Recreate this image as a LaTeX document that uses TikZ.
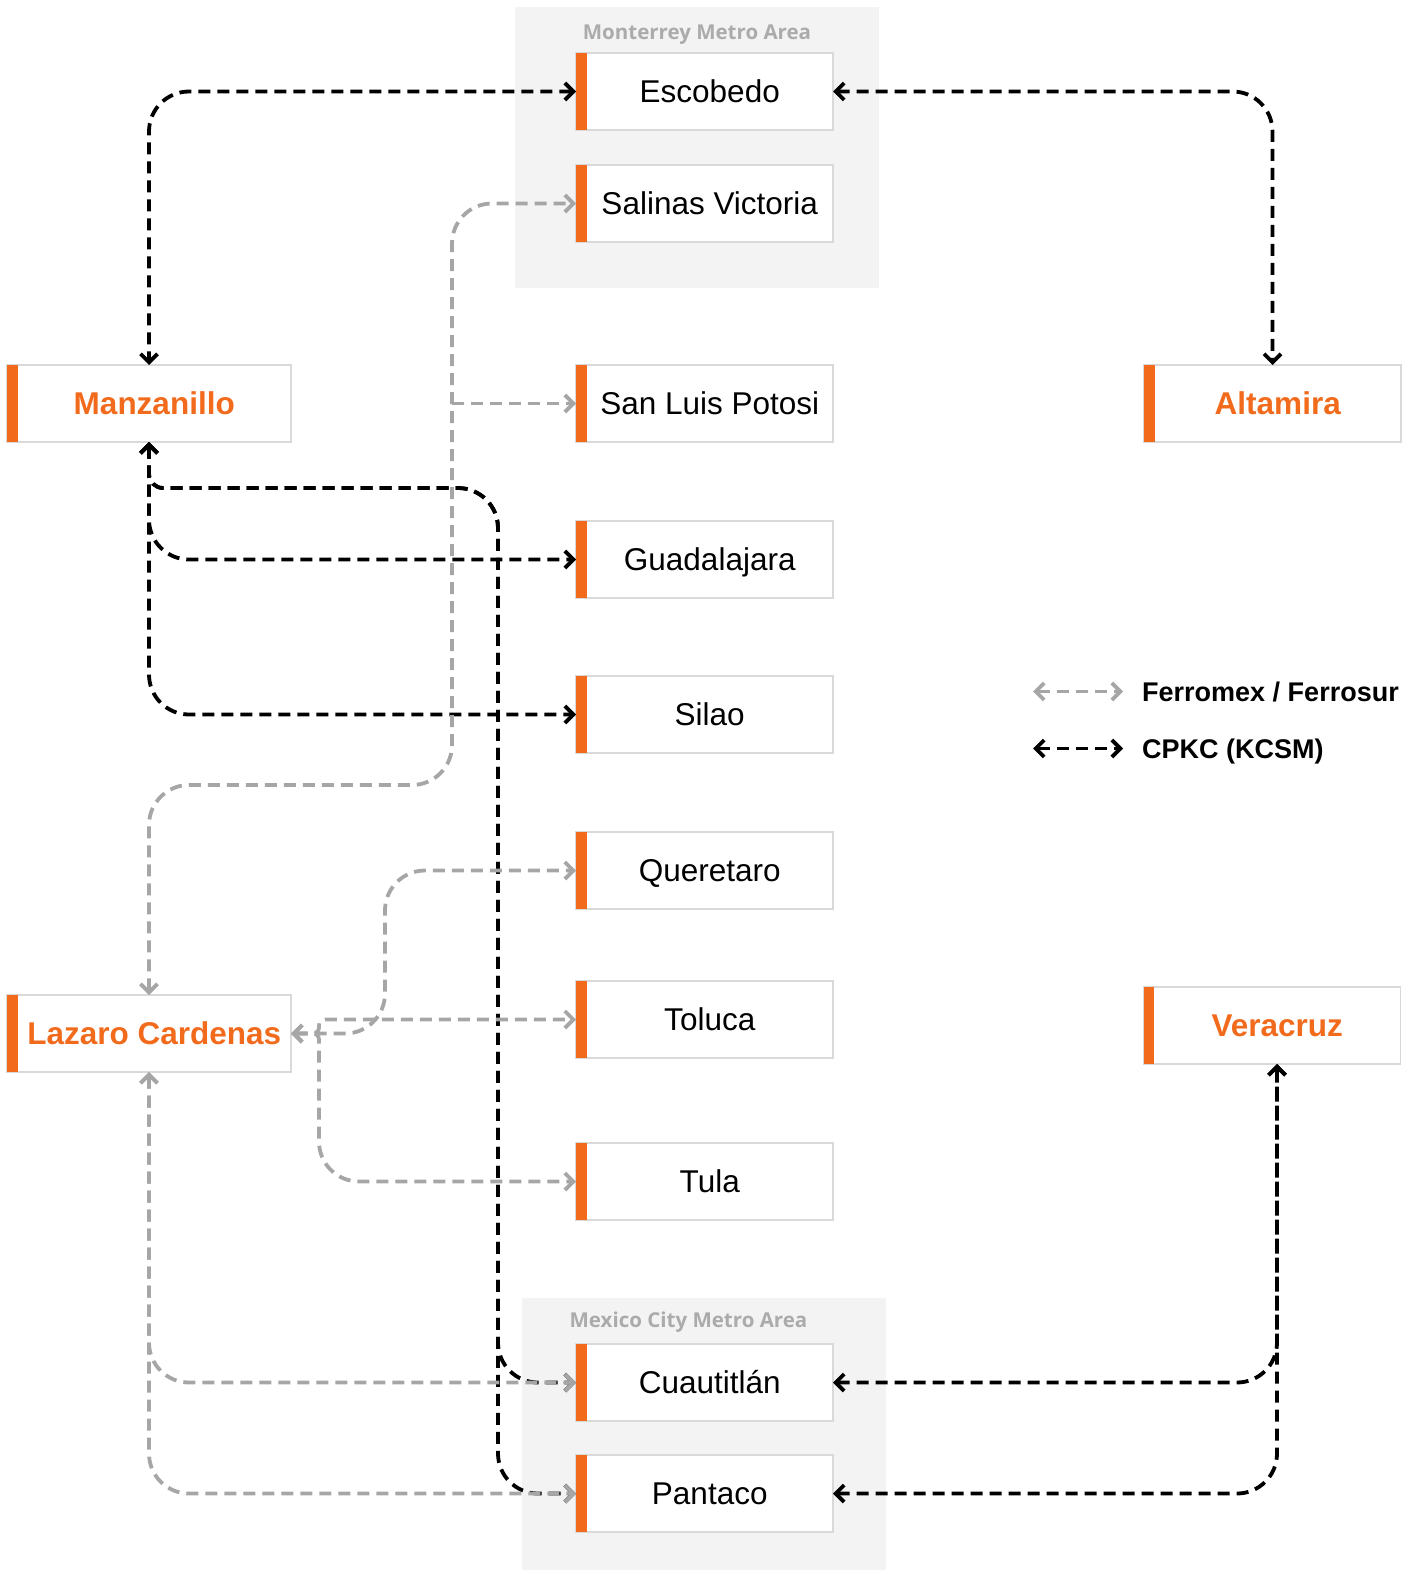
\documentclass[tikz,border=0pt]{standalone}
\usepackage{fontspec}
\setmainfont{Liberation Sans}
\newfontfamily\areafont{Open Sans}
\usepackage{tikz}
\usetikzlibrary{positioning}
\usetikzlibrary{calc}
\usetikzlibrary{arrows.meta}

\definecolor{accent}{HTML}{F26B1D}
\definecolor{areagray}{HTML}{F3F3F3}
\definecolor{boxline}{HTML}{D9D9D9}
\definecolor{ferrogray}{HTML}{A6A6A6}
\definecolor{labelgray}{HTML}{ABABAB}

\begin{document}
\begin{tikzpicture}[x=1pt, y=-1pt,
    station/.style={draw=boxline, line width=1.5pt, fill=white, inner sep=0pt, outer sep=0pt,
        minimum width=257pt, minimum height=77pt, text height=22.5pt, text depth=0pt,
        font=\fontsize{31.5}{36}\selectfont, execute at begin node={\hspace*{10.5pt}}},
    port/.style={station, text=accent, font=\fontsize{31.5}{36}\selectfont\bfseries},
    link/.style={line width=3.8pt, dash pattern=on 12pt off 7pt, rounded corners=40pt,
        >={Straight Barb[length=8.5pt,width=17pt]}, <->},
    cpkc/.style={link, draw=black},
    ferro/.style={link, draw=ferrogray},
    area/.style={text=labelgray, inner sep=0pt, text height=15pt, text depth=0pt,
        font=\areafont\fontsize{20.5}{24}\selectfont\bfseries},
    legend/.style={anchor=west, inner sep=0pt, text height=19.5pt, text depth=0pt,
        font=\fontsize{27}{32}\selectfont\bfseries}]

    \useasboundingbox (0,0) rectangle (1418,1570);

    \fill[areagray] (515,7) rectangle (879,288);
    \fill[areagray] (522,1298) rectangle (886,1570);
    \node[area] (mtylab) at (697,32) {Monterrey Metro Area};
    \node[area] (cdmxlab) at (688.5,1320) {Mexico City Metro Area};

    \node[station] (esc) at (704.5,91.5) {Escobedo};
    \node[station, below=35pt of esc] (sal) {Salinas Victoria};
    \node[station, below=123pt of sal] (slp) {San Luis Potosi};
    \node[station, below=79pt of slp] (gua) {Guadalajara};
    \node[station, below=78pt of gua] (sil) {Silao};
    \node[station, below=79pt of sil] (que) {Queretaro};
    \node[station, below=72pt of que] (tol) {Toluca};
    \node[station, below=85pt of tol] (tul) {Tula};
    \node[station, below=124pt of tul] (cua) {Cuautitlán};
    \node[station, below=34pt of cua] (pan) {Pantaco};

    \node[port, minimum width=284pt, left=285pt of slp] (man) {Manzanillo};
    \node[port, right=311pt of slp] (alt) {Altamira};
    \node[port, minimum width=284pt] (lc) at (149,1033.5) {Lazaro Cardenas};
    \node[port] (ver) at (1272,1025.5) {Veracruz};

    \foreach \n in {esc,sal,slp,gua,sil,que,tol,tul,cua,pan,man,alt,lc,ver}
        \fill[accent] (\n.north west) rectangle ([xshift=10.5pt]\n.south west);

    \draw[cpkc] (esc.west) -| (man.north);
    \draw[cpkc] (esc.east) -| (alt.north);
    \draw[cpkc] (man.south) |- (gua.west);
    \draw[cpkc] (man.south) |- (sil.west);
    \draw[cpkc] (man.south) [rounded corners=14pt] -- (149,488) [rounded corners=40pt] -- (498,488) |- (cua.west);
    \draw[cpkc] (man.south) [rounded corners=14pt] -- (149,488) [rounded corners=40pt] -- (498,488) |- (pan.west);
    \draw[cpkc] (cua.east) -| ([xshift=5pt]ver.south);
    \draw[cpkc] (pan.east) -| ([xshift=5pt]ver.south);

    \coordinate (slpfork) at (452,403.5);
    \draw[ferro] (lc.north) |- (452,785) |- (sal.west);
    \draw[ferro, ->] (slpfork) -- (slp.west);
    \draw[ferro] (lc.east) -| (385,870.5) -- (que.west);
    \draw[ferro, rounded corners=6pt] (lc.east) -- (319,1033.5) |- (tol.west);
    \draw[ferro, rounded corners=6pt] (lc.east) -- (319,1033.5) [rounded corners=40pt] |- (tul.west);
    \draw[ferro] (lc.south) |- (cua.west);
    \draw[ferro] (lc.south) |- (pan.west);

    \coordinate (fmstart) at (1033,691.5);
    \coordinate (fmend) at (1123,691.5);
    \coordinate (kcstart) at (1033,748.5);
    \coordinate (kcend) at (1123,748.5);
    \draw[ferro] (fmstart) -- (fmend);
    \draw[cpkc] (kcstart) -- (kcend);
    \node[legend] (fmlab) at (1142,691.5) {Ferromex / Ferrosur};
    \node[legend] (kclab) at (1142,748.5) {CPKC (KCSM)};

\end{tikzpicture}
\end{document}
